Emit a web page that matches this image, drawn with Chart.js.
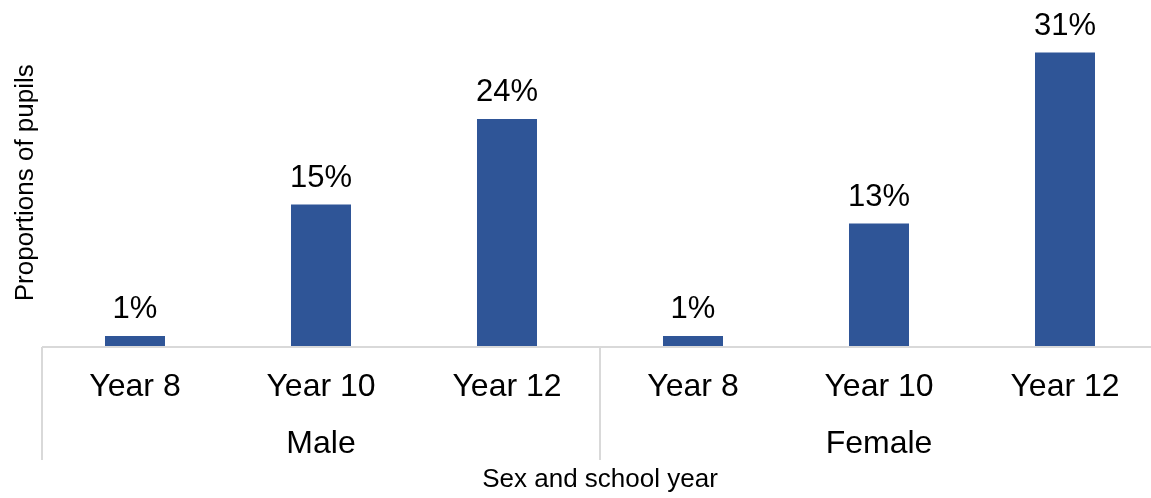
<!DOCTYPE html>
<html>
<head>
<meta charset="utf-8">
<script src="https://cdn.jsdelivr.net/npm/chart.js@4/dist/chart.umd.min.js"></script>
<style>
  html, body { margin: 0; padding: 0; background: #fff; overflow: hidden; }
  #wrap { width: 1160px; height: 498px; position: relative; }
</style>
</head>
<body>
<div id="wrap"><canvas id="c"></canvas></div>
<script>
const categories = ['Year 8', 'Year 10', 'Year 12', 'Year 8', 'Year 10', 'Year 12'];
const groups = ['Male', 'Female'];
const groupSize = [3, 3];
const values = [1.15, 15, 24, 1.15, 13, 31];
const valueLabels = ['1%', '15%', '24%', '1%', '13%', '31%'];
const xTitle = 'Sex and school year';
const yTitle = 'Proportions of pupils';

const FONT = '"Liberation Sans", Arial, sans-serif';
const LINE = '#d9d9d9';

const overlay = {
  id: 'overlay',
  afterDatasetsDraw(chart) {
    const ctx = chart.ctx;
    const x = chart.scales.x, y = chart.scales.y;
    const area = chart.chartArea;
    const base = y.getPixelForValue(0);
    ctx.save();
    // data labels
    ctx.fillStyle = '#000';
    ctx.font = '31px ' + FONT;
    ctx.textAlign = 'center';
    ctx.textBaseline = 'alphabetic';
    const meta = chart.getDatasetMeta(0);
    meta.data.forEach((bar, i) => {
      ctx.fillText(valueLabels[i], bar.x, bar.y - 18);
    });
    // axis line
    ctx.strokeStyle = LINE;
    ctx.lineWidth = 2;
    ctx.beginPath();
    ctx.moveTo(area.left, base);
    ctx.lineTo(area.right, base);
    ctx.stroke();
    // group separators
    const half = (x.getPixelForValue(1) - x.getPixelForValue(0)) / 2;
    let idx = 0;
    const bounds = [x.getPixelForValue(0) - half];
    groupSize.forEach(n => { idx += n; bounds.push(x.getPixelForValue(idx - 1) + half); });
    ctx.beginPath();
    bounds.forEach(b => { ctx.moveTo(b, base); ctx.lineTo(b, base + 113); });
    ctx.stroke();
    // category labels
    ctx.font = '32px ' + FONT;
    categories.forEach((c, i) => {
      ctx.fillText(c, x.getPixelForValue(i), base + 49);
    });
    // group labels
    groups.forEach((g, gi) => {
      ctx.fillText(g, (bounds[gi] + bounds[gi + 1]) / 2, base + 106);
    });
    // x title
    ctx.font = '26px ' + FONT;
    ctx.fillText(xTitle, 600, base + 140);
    // y title
    ctx.translate(33, (area.top + base) / 2 + 2);
    ctx.rotate(-Math.PI / 2);
    ctx.fillText(yTitle, 0, 0);
    ctx.restore();
  }
};

new Chart(document.getElementById('c'), {
  type: 'bar',
  data: {
    labels: categories,
    datasets: [{
      data: values,
      backgroundColor: '#2F5597',
      borderWidth: 0,
      barPercentage: 0.3226,
      categoryPercentage: 1.0
    }]
  },
  options: {
    responsive: true,
    maintainAspectRatio: false,
    animation: false,
    layout: { padding: { left: 42, right: 2, top: 14.5, bottom: 151 } },
    plugins: { legend: { display: false }, tooltip: { enabled: false } },
    scales: {
      x: { display: false },
      y: { display: false, min: 0, max: 35 }
    }
  },
  plugins: [overlay]
});
</script>
</body>
</html>
